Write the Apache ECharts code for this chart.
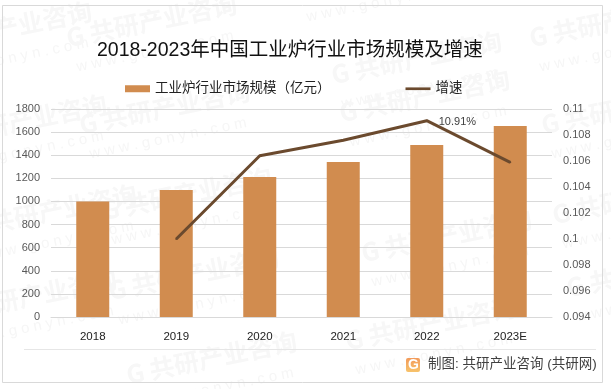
<!DOCTYPE html>
<html>
<head>
<meta charset="utf-8">
<script src="https://cdn.jsdelivr.net/npm/echarts@6/dist/echarts.min.js"></script>
<style>
html, body { margin: 0; padding: 0; background: #fff; }
#main { width: 611px; height: 389px; }
</style>
</head>
<body>
<div id="main"></div>
<script>
const categories = ['2018', '2019', '2020', '2021', '2022', '2023E']
const scaleValues = [1000, 1100, 1211, 1341, 1488, 1653]
const growthValues = [null, 0.1, 0.1064, 0.1076, 0.1091, 0.1059]
const labelledIndex = 4
// 水印左端位置
const markSpots = [
  [-75, 62], [70, 55], [335, 92], [533, 55], [300, 5],
  [-60, 155], [83, 142], [343, 130], [545, 142],
  [-30, 245], [105, 228], [365, 270], [556, 232],
  [-50, 330], [112, 308], [349, 358], [570, 305], [130, 392]
]
const fontLatin = '"Liberation Sans", "Noto Sans CJK SC", sans-serif'

const myChart = echarts.init(document.getElementById('main'))

// 水印
const markItems = markSpots.map(([x, y]) => ({
  type: 'group',
  x: x,
  y: y,
  rotation: 0.2,
  silent: true,
  children: [
    {
      type: 'text',
      z: -10,
      style: {
        x: 0,
        y: -30,
        text: 'G 共研产业咨询',
        fontSize: 25,
        fontWeight: 'bold',
        fontFamily: '"Noto Sans CJK SC"',
        fill: '#f7f7f7'
      }
    },
    {
      type: 'text',
      z: -10,
      style: {
        x: 4,
        y: 6,
        text: 'w w w . g o n y n . c o m',
        fontSize: 15,
        fontFamily: '"Liberation Sans"',
        fill: '#f6f6f6'
      }
    }
  ]
}))

const option = {
  backgroundColor: '#fff',
  animation: false,
  title: {
    text: '2018-2023年中国工业炉行业市场规模及增速',
    left: 92,
    top: 36,
    textStyle: {
      fontSize: 19.5,
      fontWeight: 'normal',
      color: '#111',
      fontFamily: fontLatin
    }
  },
  legend: {
    left: 120,
    top: 77,
    itemWidth: 25,
    itemHeight: 7,
    itemGap: 75,
    textStyle: {
      fontSize: 13.5,
      color: '#222',
      fontFamily: fontLatin
    },
    data: [
      { name: '工业炉行业市场规模（亿元）', icon: 'rect' },
      { name: '增速', icon: 'path://M0 2.4H30V5.6H0Z' }
    ]
  },
  grid: { left: 51, right: 59, top: 109, bottom: 72 },
  xAxis: {
    type: 'category',
    data: categories,
    axisTick: { show: false },
    axisLine: { lineStyle: { color: '#d9d9d9', width: 1 } },
    axisLabel: {
      color: '#222',
      fontSize: 11.5,
      margin: 14,
      fontFamily: fontLatin
    }
  },
  yAxis: [
    {
      type: 'value',
      min: 0,
      max: 1800,
      interval: 200,
      axisLine: { show: false },
      axisTick: { show: false },
      splitLine: { lineStyle: { color: '#d9d9d9', width: 1 } },
      axisLabel: {
        color: '#595959',
        fontSize: 11,
        margin: 11,
        fontFamily: fontLatin,
        formatter: (v) => String(v)
      }
    },
    {
      type: 'value',
      min: 0.094,
      max: 0.11,
      interval: 0.002,
      axisLine: { show: false },
      axisTick: { show: false },
      splitLine: { show: false },
      axisLabel: {
        color: '#595959',
        fontSize: 11,
        margin: 11,
        fontFamily: fontLatin
      }
    }
  ],
  series: [
    {
      name: '工业炉行业市场规模（亿元）',
      type: 'bar',
      data: scaleValues,
      barWidth: 33,
      itemStyle: { color: '#D18C4F' }
    },
    {
      name: '增速',
      type: 'line',
      yAxisIndex: 1,
      data: growthValues,
      symbol: 'circle',
      symbolSize: 2,
      lineStyle: { color: '#6B4A2E', width: 3 },
      itemStyle: { color: '#6B4A2E' },
      label: {
        show: true,
        position: 'right',
        offset: [6, 1],
        color: '#404040',
        fontSize: 11,
        fontFamily: fontLatin,
        formatter: (arg) => arg.dataIndex === labelledIndex ? (arg.value * 100).toFixed(2) + '%' : ''
      }
    }
  ],
  graphic: {
    elements: [
      ...markItems,
      // 外框
      {
        type: 'rect',
        z: -5,
        silent: true,
        shape: { x: 2.5, y: 5.5, width: 600, height: 377 },
        style: { fill: 'transparent', stroke: '#d9d9d9', lineWidth: 1 }
      },
      // 底部分隔线
      {
        type: 'line',
        z: -5,
        silent: true,
        shape: { x1: 24, y1: 349.5, x2: 596, y2: 349.5 },
        style: { stroke: '#e6e6e6', lineWidth: 1 }
      },
      // 来源
      {
        type: 'rect',
        z: 5,
        shape: { x: 406, y: 358, width: 14, height: 14, r: 2 },
        style: {
          fill: new echarts.graphic.LinearGradient(0, 0, 0, 1, [
            { offset: 0, color: '#F29A5A' },
            { offset: 1, color: '#F7C36B' }
          ])
        }
      },
      {
        type: 'text',
        z: 6,
        style: {
          x: 408,
          y: 358,
          text: 'G',
          fontSize: 14,
          fontWeight: 'bold',
          fontFamily: '"Liberation Sans"',
          fill: '#fff'
        }
      },
      {
        type: 'text',
        z: 5,
        style: {
          x: 428,
          y: 358,
          text: '制图: 共研产业咨询 (共研网)',
          fontSize: 13.5,
          fontFamily: fontLatin,
          fill: '#404040'
        }
      }
    ]
  }
}

myChart.setOption(option)
</script>
</body>
</html>
